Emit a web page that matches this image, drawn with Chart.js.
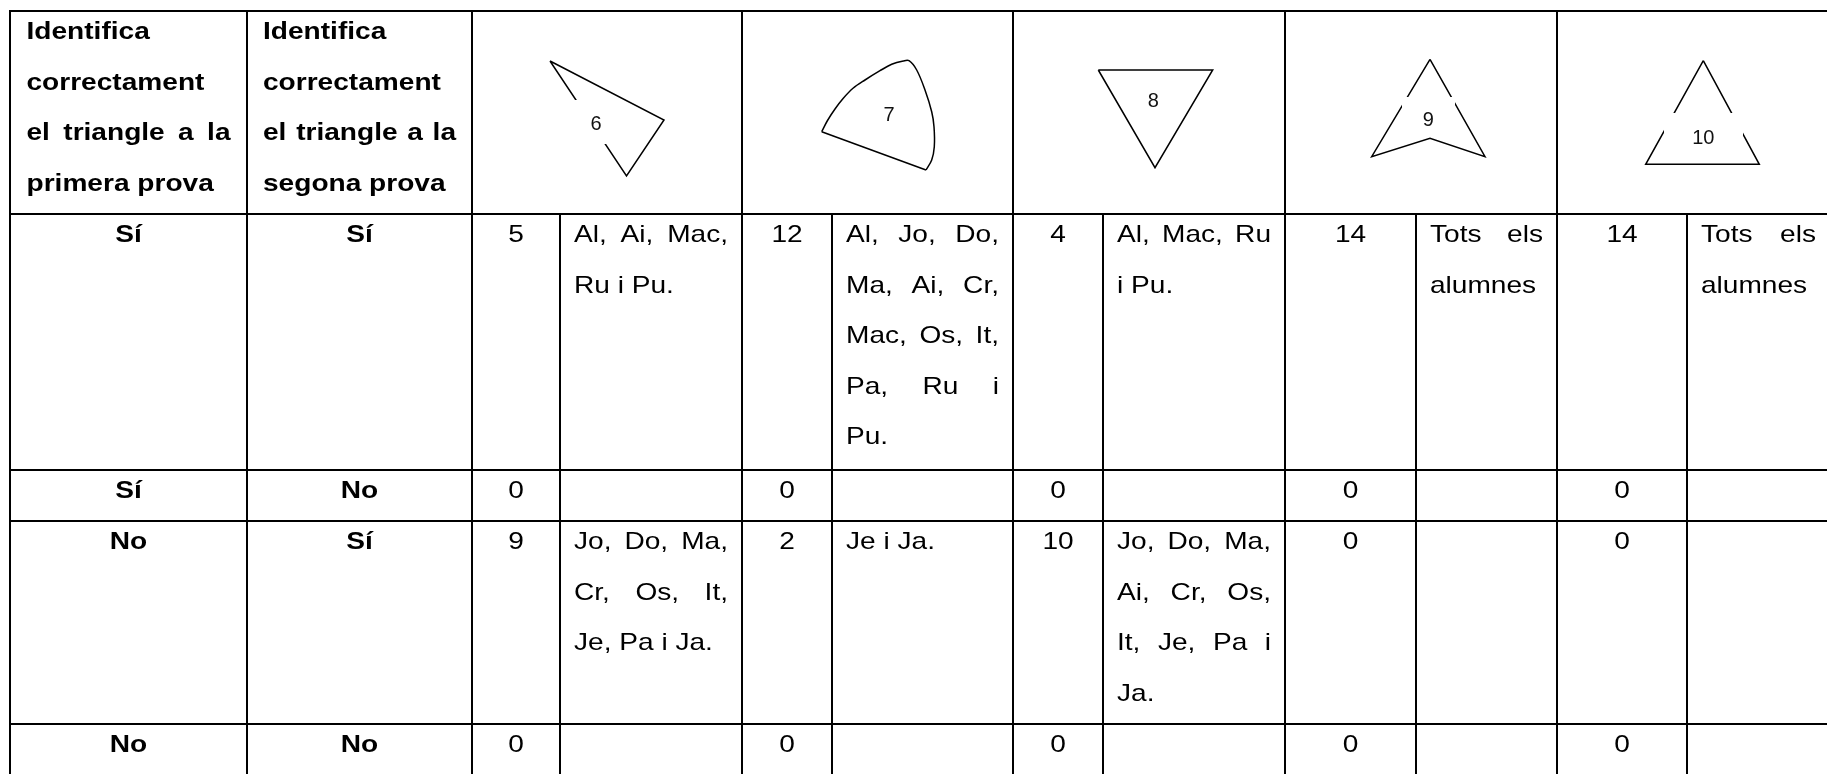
<!DOCTYPE html>
<html>
<head>
<meta charset="utf-8">
<script src="https://cdn.jsdelivr.net/npm/chart.js@4.4.1/dist/chart.umd.min.js"></script>
<style>
  html, body { margin: 0; padding: 0; background: #fff; }
  #wrap { width: 1827px; height: 774px; position: relative; }
</style>
</head>
<body>
<div id="wrap"><canvas id="table"></canvas></div>
<script>
// ---- table content ----
const headerFirst = ['Identifica', 'correctament', 'el triangle a la', 'primera prova'];
const headerSecond = ['Identifica', 'correctament', 'el triangle a la', 'segona prova'];
const figureLabels = ['6', '7', '8', '9', '10'];

const firstTest = ['Sí', 'Sí', 'No', 'No'];
const secondTest = ['Sí', 'No', 'Sí', 'No'];

const countsFig6 = [5, 0, 9, 0];
const countsFig7 = [12, 0, 2, 0];
const countsFig8 = [4, 0, 10, 0];
const countsFig9 = [14, 0, 0, 0];
const countsFig10 = [14, 0, 0, 0];

const namesFig6 = [['Al, Ai, Mac,', 'Ru i Pu.'], [], ['Jo, Do, Ma,', 'Cr, Os, It,', 'Je, Pa i Ja.'], []];
const namesFig7 = [['Al, Jo, Do,', 'Ma, Ai, Cr,', 'Mac, Os, It,', 'Pa, Ru i', 'Pu.'], [], ['Je i Ja.'], []];
const namesFig8 = [['Al, Mac, Ru', 'i Pu.'], [], ['Jo, Do, Ma,', 'Ai, Cr, Os,', 'It, Je, Pa i', 'Ja.'], []];
const namesFig9 = [['Tots els', 'alumnes'], [], [], []];
const namesFig10 = [['Tots els', 'alumnes'], [], [], []];

// figure outlines, relative to the centre of their header cell
const outlineFig6 = [[-57, -51.5], [57, 7.5], [19.5, 63.5], [-57, -51.5]];
const outlineFig7Arc = [[48.5, 57.5], [54.2, 47.5], [56.8, 34.2], [56.5, 14.2], [54.2, -0.8], [47.5, -22.5],
  [39.2, -42.5], [31.5, -51.8], [25.8, -51.5], [14.2, -48.2], [2.5, -41.8], [-12.5, -32.5],
  [-24.5, -24.2], [-34.2, -14.2], [-42.5, -3.5], [-50, 8], [-55.8, 19.2]];
const outlineFig7Edge = [[-55.8, 19.2], [48.5, 57.5]];
const outlineFig8 = [[-50.7, -42.5], [63.7, -42.5], [6, 55.2], [-50.7, -42.5]];
const outlineFig9 = [[9, -53.2], [-49.3, 44.2], [9, 25.8], [64, 44.2], [9, -53.2]];
const outlineFig10 = [[9.8, -51.8], [-47.8, 51.8], [65.8, 51.8], [9.8, -51.8]];

// label position and white label box (x0, y0, x1, y1), relative to cell centre
const labelPosFig = [[-11, 10], [11.5, 1.5], [4.3, -13], [7.3, 6.5], [9.8, 24.2]];
const labelBoxFig = [[-33, -12.5, 11, 31.5], null, null, [-19, -15.5, 34, 20.5], [-29.5, 0.5, 49.5, 37.5]];

// ---- layout ----
const COLS = [10, 247, 472, 560, 742, 832, 1013, 1103, 1285, 1416, 1557, 1687, 1830];
const ROWS = [11, 214, 470, 521, 724, 778];
const SX = 1.17;          // horizontal stretch of the scanned text
const FONT = "'Liberation Sans', Arial, sans-serif";
const FONT_PX = 24;
const LINE_H = 50.6;
const BASE_OFF = 28;

const counts = [countsFig6, countsFig7, countsFig8, countsFig9, countsFig10];
const names = [namesFig6, namesFig7, namesFig8, namesFig9, namesFig10];
const outlines = [[outlineFig6], [outlineFig7Arc, outlineFig7Edge], [outlineFig8], [outlineFig9], [outlineFig10]];

function figCentre(f) {
  return [(COLS[2 + 2 * f] + COLS[4 + 2 * f]) / 2, (ROWS[0] + ROWS[1]) / 2];
}

const datasets = [];
outlines.forEach((parts, f) => {
  const [cx, cy] = figCentre(f);
  parts.forEach((pts, k) => {
    datasets.push({
      data: pts.map(p => ({ x: cx + p[0], y: cy + p[1] })),
      showLine: true,
      borderColor: '#000',
      borderWidth: 1.5,
      pointRadius: 0,
      fill: false,
      tension: (f === 1 && k === 0) ? 0.35 : 0
    });
  });
});

function drawWords(ctx, text, x0, width, y, justify, align) {
  const words = text.split(' ');
  const ww = words.map(w => ctx.measureText(w).width * SX);
  const sum = ww.reduce((a, b) => a + b, 0);
  let gap = ctx.measureText(' ').width * SX;
  if (justify && words.length > 1) gap = (width - sum) / (words.length - 1);
  const total = sum + gap * (words.length - 1);
  let x = align === 'center' ? x0 + (width - total) / 2 : x0;
  words.forEach((w, k) => {
    ctx.save();
    ctx.translate(x, y);
    ctx.scale(SX, 1);
    ctx.fillText(w, 0, 0);
    ctx.restore();
    x += ww[k] + gap;
  });
}

function drawCell(ctx, lines, left, right, top, pad, opts) {
  lines.forEach((line, i) => {
    const justify = opts.justify && i < lines.length - 1;
    drawWords(ctx, line, left + pad, right - left - 2 * pad, top + BASE_OFF + i * LINE_H, justify, opts.align);
  });
}

const tablePlugin = {
  id: 'tableGrid',
  beforeDatasetsDraw(chart) {
    const ctx = chart.ctx;
    const px = v => chart.scales.x.getPixelForValue(v);
    const py = v => chart.scales.y.getPixelForValue(v);
    ctx.save();
    ctx.fillStyle = '#000';
    const xl = px(COLS[0]), xr = px(COLS[COLS.length - 1]);
    ROWS.forEach(r => ctx.fillRect(xl - 1, py(r) - 1, xr - xl + 2, 2));
    COLS.forEach((c, i) => {
      const main = i < 3 || i % 2 === 0;
      const top = main ? ROWS[0] : ROWS[1];
      ctx.fillRect(px(c) - 1, py(top) - 1, 2, py(ROWS[ROWS.length - 1]) - py(top) + 2);
    });
    ctx.restore();
  },
  afterDatasetsDraw(chart) {
    const ctx = chart.ctx;
    const px = v => chart.scales.x.getPixelForValue(v);
    const py = v => chart.scales.y.getPixelForValue(v);
    ctx.save();
    ctx.fillStyle = '#000';
    ctx.textBaseline = 'alphabetic';
    ctx.textAlign = 'left';

    // header
    ctx.font = 'bold ' + FONT_PX + 'px ' + FONT;
    drawCell(ctx, headerFirst, px(COLS[0]), px(COLS[1]), py(ROWS[0]), 16.5, { justify: true, align: 'left' });
    drawCell(ctx, headerSecond, px(COLS[1]), px(COLS[2]), py(ROWS[0]), 16, { justify: true, align: 'left' });

    // figure labels with their white boxes
    figureLabels.forEach((lab, f) => {
      const [cx, cy] = figCentre(f);
      const box = labelBoxFig[f];
      if (box) {
        ctx.fillStyle = '#fff';
        ctx.fillRect(px(cx + box[0]), py(cy + box[1]), px(cx + box[2]) - px(cx + box[0]), py(cy + box[3]) - py(cy + box[1]));
      }
      ctx.fillStyle = '#111';
      ctx.font = '20px ' + FONT;
      ctx.textAlign = 'center';
      ctx.fillText(lab, px(cx + labelPosFig[f][0]), py(cy + labelPosFig[f][1]) + 7.2);
      ctx.textAlign = 'left';
    });

    ctx.fillStyle = '#000';
    // answer rows
    firstTest.forEach((ans, r) => {
      const top = py(ROWS[r + 1]);
      ctx.font = 'bold ' + FONT_PX + 'px ' + FONT;
      drawCell(ctx, [ans], px(COLS[0]), px(COLS[1]), top, 0, { align: 'center' });
      drawCell(ctx, [secondTest[r]], px(COLS[1]), px(COLS[2]), top, 0, { align: 'center' });
      ctx.font = FONT_PX + 'px ' + FONT;
      counts.forEach((cnt, f) => {
        drawCell(ctx, [String(cnt[r])], px(COLS[2 + 2 * f]), px(COLS[3 + 2 * f]), top, 0, { align: 'center' });
        drawCell(ctx, names[f][r], px(COLS[3 + 2 * f]), px(COLS[4 + 2 * f]), top, 14, { justify: true, align: 'left' });
      });
    });
    ctx.restore();
  }
};

new Chart(document.getElementById('table'), {
  type: 'scatter',
  data: { datasets },
  options: {
    responsive: true,
    maintainAspectRatio: false,
    animation: false,
    events: [],
    layout: { padding: 0 },
    scales: {
      x: { type: 'linear', min: 0, max: 1827, display: false },
      y: { type: 'linear', min: 0, max: 774, reverse: true, display: false }
    },
    plugins: { legend: { display: false }, tooltip: { enabled: false } }
  },
  plugins: [tablePlugin]
});
</script>
</body>
</html>
